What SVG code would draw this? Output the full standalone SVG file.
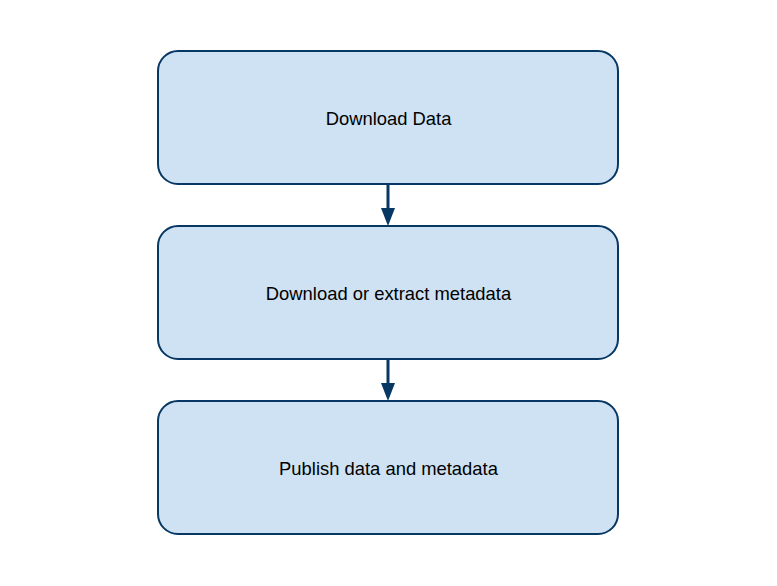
<svg xmlns="http://www.w3.org/2000/svg" width="777" height="586" viewBox="0 0 777 586">
<style>
.box{fill:#cfe2f3;stroke:#073763;stroke-width:2}
.lbl{font-family:"Liberation Sans",Arial,sans-serif;font-size:18.4px;fill:#000;text-anchor:middle}
.edge{stroke:#073763;stroke-width:3;fill:none}
</style>
<defs>
<marker id="ah" markerUnits="userSpaceOnUse" markerWidth="18" markerHeight="14" refX="0" refY="7" orient="auto" viewBox="0 0 18 14">
<path d="M0,0 L18,7 L0,14 Z" fill="#073763"/>
</marker>
</defs>
<rect width="777" height="586" fill="#fff"/>
<g id="n1"><rect class="box" x="158" y="51" width="460" height="133" rx="20"/><text class="lbl" x="388.5" y="124.5">Download Data</text></g>
<g id="n2"><rect class="box" x="158" y="226" width="460" height="133" rx="20"/><text class="lbl" x="388.5" y="299.5">Download or extract metadata</text></g>
<g id="n3"><rect class="box" x="158" y="401" width="460" height="133" rx="20"/><text class="lbl" x="388.5" y="474.5">Publish data and metadata</text></g>
<g id="edges">
<path class="edge" d="M388,185 L388,208" marker-end="url(#ah)"/>
<path class="edge" d="M388,360 L388,383" marker-end="url(#ah)"/>
</g>
</svg>
